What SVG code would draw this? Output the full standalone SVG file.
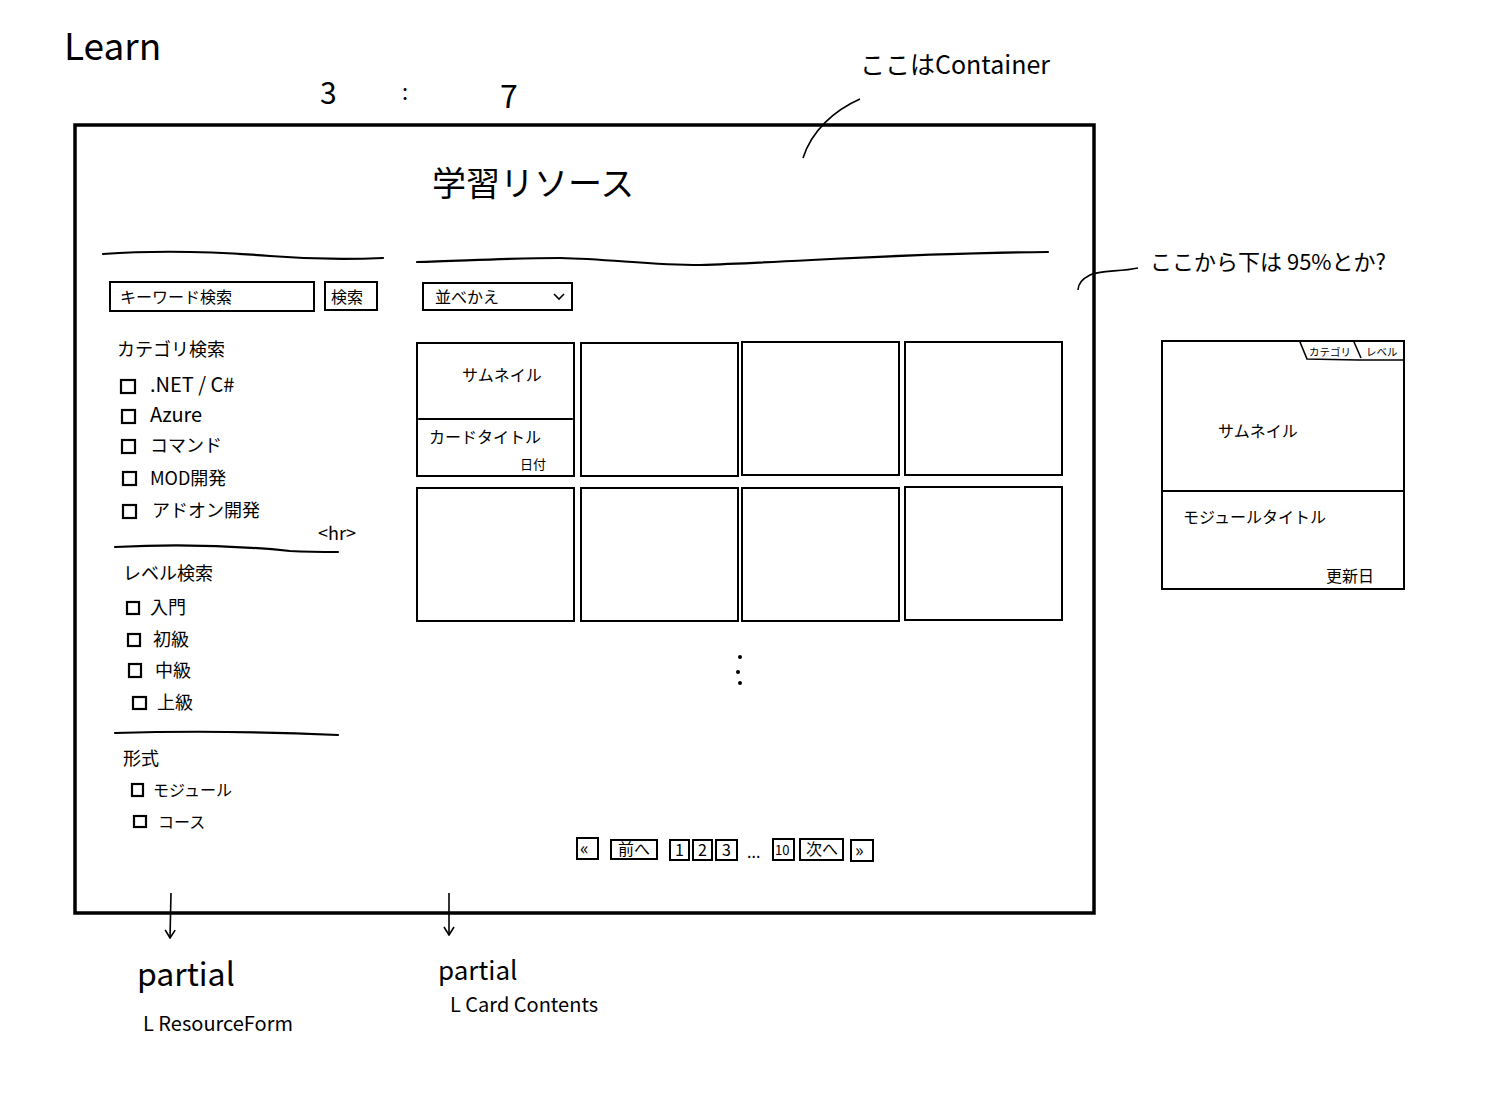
<svg xmlns="http://www.w3.org/2000/svg" width="1500" height="1103" viewBox="0 0 1500 1103">
<defs>
<style>
text{font-family:"Noto Sans CJK JP","Noto Sans",sans-serif;fill:#000}
.box{fill:#fff;stroke:#000;stroke-width:2}
.thin{fill:none;stroke:#000;stroke-width:1.6}
.line{fill:none;stroke:#000;stroke-width:2.2;stroke-linecap:round}
.cb{fill:none;stroke:#000;stroke-width:2.2}
.s16{font-size:16px}
.s18{font-size:18px}
.s20{font-size:20px}
.s13{font-size:13px}
.tab{font-size:10.5px}
</style>
<marker id="ah" viewBox="0 0 12 12" refX="11" refY="6" markerWidth="12" markerHeight="12" markerUnits="userSpaceOnUse" orient="auto">
<path d="M3,1 L11,6 L3,11" fill="none" stroke="#000" stroke-width="1.6"/>
</marker>
</defs>
<rect width="1500" height="1103" fill="#fff"/>

<g id="annotations">
<text x="64" y="60" font-size="37">Learn</text>
<text x="320" y="104" font-size="30">3</text>
<text x="402" y="100" font-size="22">:</text>
<text x="500" y="108" font-size="32">7</text>
<text x="860" y="74" font-size="25">ここはContainer</text>
<text x="1150" y="270" font-size="22">ここから下は 95%とか?</text>
<text x="137" y="986" font-size="32">partial</text>
<text x="143" y="1031" font-size="20">L ResourceForm</text>
<text x="438" y="980" font-size="26">partial</text>
<text x="450" y="1012" font-size="20">L Card Contents</text>
</g>

<g id="container">
<rect x="75" y="125" width="1019" height="788" fill="none" stroke="#000" stroke-width="3.5"/>
<text x="432" y="196" font-size="34">学習リソース</text>
</g>

<g id="sidebar">
<path class="line" d="M103,254 C160,250 220,252 270,256 C320,260 360,259 383,258"/>
<rect class="box" x="110" y="282" width="204" height="29"/>
<text class="s16" x="120" y="303">キーワード検索</text>
<rect class="box" x="325" y="282" width="52" height="28"/>
<text class="s16" x="331" y="303">検索</text>
<text class="s18" x="117" y="356">カテゴリ検索</text>
<rect class="cb" x="121" y="380" width="14" height="13"/><text class="s20" x="150" y="392">.NET / C#</text>
<rect class="cb" x="122" y="410" width="13" height="13"/><text class="s20" x="150" y="422">Azure</text>
<rect class="cb" x="122" y="440" width="13" height="13"/><text class="s18" x="150" y="452">コマンド</text>
<rect class="cb" x="123" y="472" width="13" height="13"/><text class="s18" x="150" y="485">MOD開発</text>
<rect class="cb" x="123" y="505" width="13" height="13"/><text class="s18" x="152" y="517">アドオン開発</text>
<text class="s18" x="318" y="540">&lt;hr&gt;</text>
<path class="line" d="M115,547 C170,544 230,545 290,551 C310,552 325,552 338,552"/>
<text class="s18" x="123" y="580">レベル検索</text>
<rect class="cb" x="127" y="602" width="12" height="12"/><text class="s18" x="150" y="614">入門</text>
<rect class="cb" x="128" y="634" width="12" height="12"/><text class="s18" x="153" y="646">初級</text>
<rect class="cb" x="129" y="664" width="12" height="13"/><text class="s18" x="155" y="677">中級</text>
<rect class="cb" x="133" y="697" width="13" height="12"/><text class="s18" x="157" y="709">上級</text>
<path class="line" d="M115,733 C180,731 250,731 338,735"/>
<text class="s18" x="123" y="765">形式</text>
<rect class="cb" x="132" y="784" width="11" height="12"/><text class="s16" x="153" y="796">モジュール</text>
<rect class="cb" x="134" y="816" width="12" height="11"/><text class="s16" x="158" y="828">コース</text>
</g>

<g id="content">
<path class="line" d="M417,262 C460,261 510,258 560,258 C610,259 650,265 700,265 C800,262 900,253 1048,252"/>
<rect class="box" x="423" y="283" width="149" height="27"/>
<text class="s16" x="435" y="303">並べかえ</text>
<path class="thin" d="M554,294 L559,299 L564,294"/>
</g>

<g id="card-first">
<rect class="box" x="417" y="343" width="157" height="133"/>
<line class="line" x1="419" y1="419" x2="572" y2="419"/>
<text class="s16" x="462" y="381">サムネイル</text>
<text class="s16" x="429" y="443">カードタイトル</text>
<text class="s13" x="520" y="469">日付</text>
</g>
<g id="cards">
<rect class="box" x="581" y="343" width="157" height="133"/>
<rect class="box" x="742" y="342" width="157" height="133"/>
<rect class="box" x="905" y="342" width="157" height="133"/>
<rect class="box" x="417" y="488" width="157" height="133"/>
<rect class="box" x="581" y="488" width="157" height="133"/>
<rect class="box" x="742" y="488" width="157" height="133"/>
<rect class="box" x="905" y="487" width="157" height="133"/>
<circle cx="740" cy="657" r="2"/>
<circle cx="738" cy="672" r="2"/>
<circle cx="740" cy="683" r="2"/>
</g>

<g id="pagination">
<rect class="box" x="577" y="838" width="21" height="21"/><text class="s18" x="580" y="855">«</text>
<rect class="box" x="611" y="840" width="46" height="19"/><text class="s16" x="618" y="855">前へ</text>
<rect class="box" x="670" y="840" width="19" height="20"/><text class="s16" x="675" y="856">1</text>
<rect class="box" x="693" y="840" width="19" height="20"/><text class="s16" x="698" y="856">2</text>
<rect class="box" x="716" y="840" width="21" height="20"/><text class="s16" x="722" y="856">3</text>
<text class="s16" x="747" y="858">...</text>
<rect class="box" x="773" y="839" width="21" height="21"/><text class="s13" x="775" y="855">10</text>
<rect class="box" x="800" y="839" width="43" height="21"/><text class="s16" x="806" y="855">次へ</text>
<rect class="box" x="851" y="840" width="22" height="21"/><text class="s18" x="855" y="857">»</text>
</g>

<g id="module-card">
<rect class="box" x="1162" y="341" width="242" height="248"/>
<line class="line" x1="1163" y1="491" x2="1403" y2="491"/>
<path class="thin" d="M1300,342 L1307,359 L1358,360 L1403,360"/>
<path class="thin" d="M1354,342 L1361,358"/>
<text class="tab" x="1309" y="356">カテゴリ</text>
<text class="tab" x="1366" y="356">レベル</text>
<text class="s16" x="1218" y="437">サムネイル</text>
<text class="s16" x="1183" y="523">モジュールタイトル</text>
<text class="s16" x="1326" y="582">更新日</text>
</g>

<g id="connectors">
<path class="thin" d="M860,99 C835,110 812,130 803,158"/>
<path class="thin" d="M1138,268 C1120,272 1100,270 1090,275 C1080,280 1078,285 1078,290"/>
<path class="thin" d="M171,893 L170,938" marker-end="url(#ah)"/>
<path class="thin" d="M449,893 L449,935" marker-end="url(#ah)"/>
</g>
</svg>
